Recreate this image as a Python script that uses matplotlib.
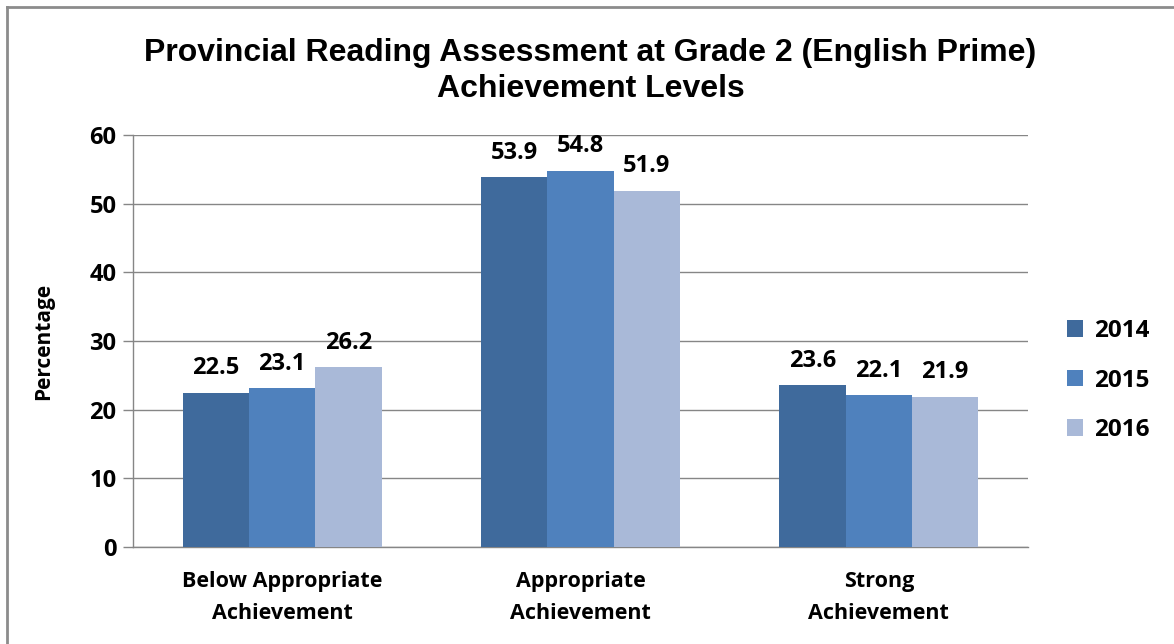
import matplotlib
matplotlib.use("Agg")
import matplotlib.pyplot as plt
import numpy as np
from matplotlib.lines import Line2D

# chart data
categories = ["Below Appropriate\nAchievement", "Appropriate\nAchievement", "Strong\nAchievement"]
years = ["2014", "2015", "2016"]
vals_2014 = [22.5, 53.9, 23.6]
vals_2015 = [23.1, 54.8, 22.1]
vals_2016 = [26.2, 51.9, 21.9]
yticks = [0, 10, 20, 30, 40, 50, 60]

series = [vals_2014, vals_2015, vals_2016]
colors = ["#3F6A9C", "#4F81BD", "#A9B9D8"]
grid_col = "#868686"
lab_font = "Open Sans"

fig = plt.figure(figsize=(11.74, 6.44), dpi=100)
ax = fig.add_axes([0.1133, 0.1506, 0.7623, 0.6398])

x = np.arange(len(categories))
barWidth = 0.222
for i, (vals, yr, c) in enumerate(zip(series, years, colors)):
    pos = x + (i - 1) * barWidth
    bars = ax.bar(pos, vals, width=barWidth, color=c, label=yr, zorder=3)
    for b, v in zip(bars, vals):
        ax.annotate(f"{v:.1f}", (b.get_x() + b.get_width() / 2, v),
                    xytext=(0, 17.5), textcoords="offset points",
                    ha="center", va="center", fontsize=17,
                    fontweight="bold", family=lab_font)

ax.set_xlim(-0.5, 2.5)
ax.set_ylim(0, 60)
ax.set_yticks(yticks)
ax.set_yticklabels([str(t) for t in yticks], fontsize=17, fontweight="bold", family=lab_font)
ax.set_xticks(x)
ax.set_xticklabels(categories, fontsize=15.5, fontweight="bold", family=lab_font, linespacing=1.72)
ax.tick_params(axis="x", length=0, pad=17)
ax.tick_params(axis="y", length=7, width=1, color=grid_col, pad=5)
ax.yaxis.grid(True, color=grid_col, linewidth=1, zorder=0)
for s in ["top", "right"]:
    ax.spines[s].set_visible(False)
for s in ["left", "bottom"]:
    ax.spines[s].set_color(grid_col)
    ax.spines[s].set_linewidth(1)

ax.set_ylabel("Percentage", fontsize=15, fontweight="bold", family=lab_font, labelpad=25)

fig.text(0.503, 0.89, "Provincial Reading Assessment at Grade 2 (English Prime)\nAchievement Levels",
         ha="center", va="center", fontsize=23, fontweight="bold",
         family="Liberation Sans", linespacing=1.25)

leg = ax.legend(loc="center left", bbox_to_anchor=(1.019, 0.404), frameon=False,
                prop={"family": lab_font, "weight": "bold", "size": 17.5},
                handlelength=0.65, handleheight=0.65, handletextpad=0.45, labelspacing=1.05)

# outer frame (left and top edges only are visible)
fig.add_artist(Line2D([7 / 1174, 7 / 1174], [0, 1 - 7 / 644], transform=fig.transFigure,
                      color="#8C8C8C", linewidth=2))
fig.add_artist(Line2D([7 / 1174, 1], [1 - 7 / 644, 1 - 7 / 644], transform=fig.transFigure,
                      color="#8C8C8C", linewidth=2))

fig.savefig("out.png", dpi=100)
